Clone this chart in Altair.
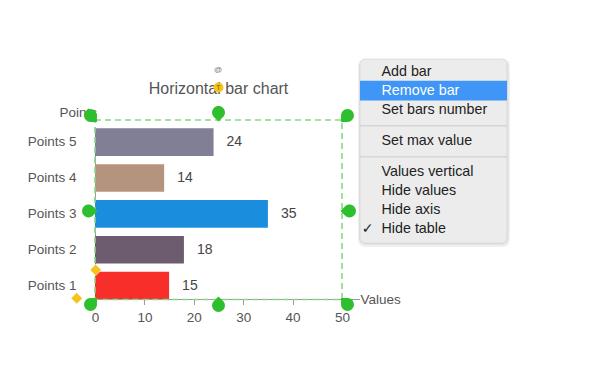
import altair as alt
import pandas as pd

# ---------------- data ----------------
categories = ["Points 1", "Points 2", "Points 3", "Points 4", "Points 5"]
values = [15, 18, 35, 14, 24]
bar_colors = ["#f82e2a", "#6d5b6f", "#1a8edc", "#b4947e", "#817f96"]
x_ticks = [0, 5, 10, 15, 20, 25, 30, 35, 40, 45, 50]
x_domain = [0, 50]
chart_title = "Horizontal bar chart"
x_title = "Values"
y_title = "Points"
menu_items = ["Add bar", "Remove bar", "Set bars number", "Set max value",
              "Values vertical", "Hide values", "Hide axis", "Hide table"]
menu_highlight = "Remove bar"
menu_checked = "Hide table"

# ---------------- layout (page pixels) ----------------
FONT = "Liberation Sans"
MARGIN = 8
OX, OY = 95, 128.3          # plot origin on the page
W, H = 247, 171.2           # plot area
TOTAL_W, TOTAL_H = 584, 375

def rx(v):
    return v - OX

def ry(v):
    return v - OY

def PX(f):
    return alt.X(f"{f}:Q", scale=None, axis=None)

def PY(f):
    return alt.Y(f"{f}:Q", scale=None, axis=None)

# ---------------- bars ----------------
df = pd.DataFrame({"cat": categories, "value": values, "color": bar_colors})
order = categories[::-1]

y_enc = alt.Y(
    "cat:N", sort=order,
    scale=alt.Scale(paddingInner=0.23, paddingOuter=0),
    axis=alt.Axis(
        title=y_title, titleX=-36, titleY=-15.6, titleAngle=0,
        titleAlign="left", titleBaseline="middle", titleFont=FONT,
        titleFontSize=13.5, titleFontWeight="normal", titleColor="#555555",
        labelFont=FONT, labelFontSize=13.5, labelColor="#555555",
        labelPadding=19, ticks=False, domainColor="#9a9a9a", domainWidth=1,
    ),
)
x_enc = alt.X(
    "value:Q",
    scale=alt.Scale(domain=x_domain, nice=False),
    axis=alt.Axis(
        values=x_ticks, labelExpr="datum.value % 10 == 0 ? datum.label : ''",
        labelFlush=False, labelOverlap=False, domain=False, grid=False,
        tickSize=5, tickColor="#9a9a9a", labelPadding=6,
        labelFont=FONT, labelFontSize=13.5, labelColor="#555555",
        title=x_title, titleX=rx(360), titleY=0, titleAlign="left",
        titleBaseline="middle", titleFont=FONT, titleFontSize=13.5,
        titleFontWeight="normal", titleColor="#555555",
    ),
)

bars = alt.Chart(df).mark_bar().encode(
    x=x_enc, y=y_enc, color=alt.Color("color:N", scale=None)
)
vlabels = alt.Chart(df).mark_text(
    align="left", baseline="middle", dx=13, font=FONT, fontSize=14, color="#444444"
).encode(x="value:Q", y=alt.Y("cat:N", sort=order), text="value:Q")
bar_layer = alt.layer(bars, vlabels)

# ---------------- axis line & title ----------------
axis_line = alt.Chart(pd.DataFrame({"x": [rx(95)], "x2": [rx(360)], "y": [ry(299.5)]})).mark_rule(
    color="#9a9a9a", strokeWidth=1
).encode(x=PX("x"), x2="x2:Q", y=PY("y"))

title_txt = alt.Chart(pd.DataFrame({"t": [chart_title], "x": [rx(218.5)], "y": [ry(89)]})).mark_text(
    font=FONT, fontSize=16, color="#555555", align="center", baseline="middle"
).encode(x=PX("x"), y=PY("y"), text="t:N")

# ---------------- selection frame ----------------
frame = alt.Chart(pd.DataFrame({"x": [rx(95)], "x2": [rx(342)], "y": [ry(120)], "y2": [ry(299.5)]})).mark_rect(
    fill="transparent", stroke="#86d886", strokeWidth=1.6, strokeDash=[6, 4]
).encode(x=PX("x"), x2="x2:Q", y=PY("y"), y2="y2:Q")

TEAR = "M 0 1 A 1 1 0 1 1 1 0 L 1 1 Z"
handles = pd.DataFrame({
    "x": [rx(v) for v in [90.5, 218.5, 347.5, 88.5, 349.5, 90.5, 218.5, 347.5]],
    "y": [ry(v) for v in [115.5, 112.5, 115.5, 211, 211, 304.5, 305.5, 304.5]],
    "a": [0, 45, 90, 315, 135, 270, 225, 180],
})
handle_marks = alt.Chart(handles).mark_point(
    shape=TEAR, filled=True, color="#2dbf2d", size=165, opacity=1
).encode(x=PX("x"), y=PY("y"), angle=alt.Angle("a:Q", scale=None))

diamonds = alt.Chart(pd.DataFrame({"x": [rx(95.7), rx(76.7)], "y": [ry(270), ry(298.3)]})).mark_point(
    shape="diamond", filled=True, color="#f6c21c", size=130, opacity=1,
    stroke="#ffffff", strokeWidth=0.5
).encode(x=PX("x"), y=PY("y"))

tdot = alt.Chart(pd.DataFrame({"x": [rx(218.5)], "y": [ry(87.5)]})).mark_point(
    shape="circle", filled=True, color="#f6c21c", size=100, opacity=1
).encode(x=PX("x"), y=PY("y"))
tlet = alt.Chart(pd.DataFrame({"t": ["T"], "x": [rx(218.5)], "y": [ry(88)]})).mark_text(
    font=FONT, fontSize=7, color="#7a5a00", align="center", baseline="middle"
).encode(x=PX("x"), y=PY("y"), text="t:N")
rot = alt.Chart(pd.DataFrame({"t": ["@"], "x": [rx(218)], "y": [ry(70)]})).mark_text(
    font=FONT, fontSize=8, color="#777777", align="center", baseline="middle"
).encode(x=PX("x"), y=PY("y"), text="t:N")

# ---------------- context menu ----------------
MX0, MX1, MY0, MY1 = 360, 507, 59, 243
shadow = alt.Chart(pd.DataFrame({
    "x": [rx(MX0 - 2), rx(MX0 - 1)], "x2": [rx(MX1 + 3), rx(MX1 + 1.5)],
    "y": [ry(MY0), ry(MY0 + 1)], "y2": [ry(MY1 + 4), ry(MY1 + 2)],
})).mark_rect(fill="#000000", opacity=0.06, cornerRadius=7).encode(
    x=PX("x"), x2="x2:Q", y=PY("y"), y2="y2:Q")
menu_bg = alt.Chart(pd.DataFrame({"x": [rx(MX0)], "x2": [rx(MX1)], "y": [ry(MY0)], "y2": [ry(MY1)]})).mark_rect(
    fill="#ececec", stroke="#d2d2d2", strokeWidth=0.6, cornerRadius=5
).encode(x=PX("x"), x2="x2:Q", y=PY("y"), y2="y2:Q")

row_y = [71.7, 90.6, 109.5, 141, 171.7, 191, 210, 228.6]
hi_idx = menu_items.index(menu_highlight)
hilite = alt.Chart(pd.DataFrame({"x": [rx(MX0)], "x2": [rx(MX1)],
                                 "y": [ry(row_y[hi_idx] - 9.8)], "y2": [ry(row_y[hi_idx] + 9.8)]})).mark_rect(
    fill="#3f96f6"
).encode(x=PX("x"), x2="x2:Q", y=PY("y"), y2="y2:Q")

seps = alt.Chart(pd.DataFrame({"x": [rx(MX0)] * 2, "x2": [rx(MX1)] * 2,
                               "y": [ry(125.7), ry(156.7)]})).mark_rule(
    color="#d6d6d6", strokeWidth=1.6
).encode(x=PX("x"), x2="x2:Q", y=PY("y"))

menu_df = pd.DataFrame({
    "t": menu_items,
    "x": [rx(381.5)] * len(menu_items),
    "y": [ry(v) for v in row_y],
    "c": ["#ffffff" if m == menu_highlight else "#222222" for m in menu_items],
})
menu_txt = alt.Chart(menu_df).mark_text(
    font=FONT, fontSize=14.3, align="left", baseline="middle"
).encode(x=PX("x"), y=PY("y"), text="t:N", color=alt.Color("c:N", scale=None))

chk = alt.Chart(pd.DataFrame({"t": ["✓"], "x": [rx(367.5)],
                              "y": [ry(row_y[menu_items.index(menu_checked)])]})).mark_text(
    font="DejaVu Sans", fontSize=14, color="#222222", align="center", baseline="middle"
).encode(x=PX("x"), y=PY("y"), text="t:N")

chart = alt.layer(
    bar_layer, axis_line, frame, title_txt, rot, tdot, tlet,
    handle_marks, diamonds, shadow, menu_bg, hilite, seps, menu_txt, chk,
).properties(
    width=W, height=H,
    padding={"left": OX - MARGIN, "top": OY - MARGIN,
             "right": TOTAL_W - (OX - MARGIN) - W,
             "bottom": TOTAL_H - (OY - MARGIN) - H},
    autosize=alt.AutoSizeParams(type="none"),
).resolve_scale(
    x="independent", y="independent"
).configure_view(strokeWidth=0)

chart.save("out.html", embed_options={"renderer": "svg", "actions": False})
